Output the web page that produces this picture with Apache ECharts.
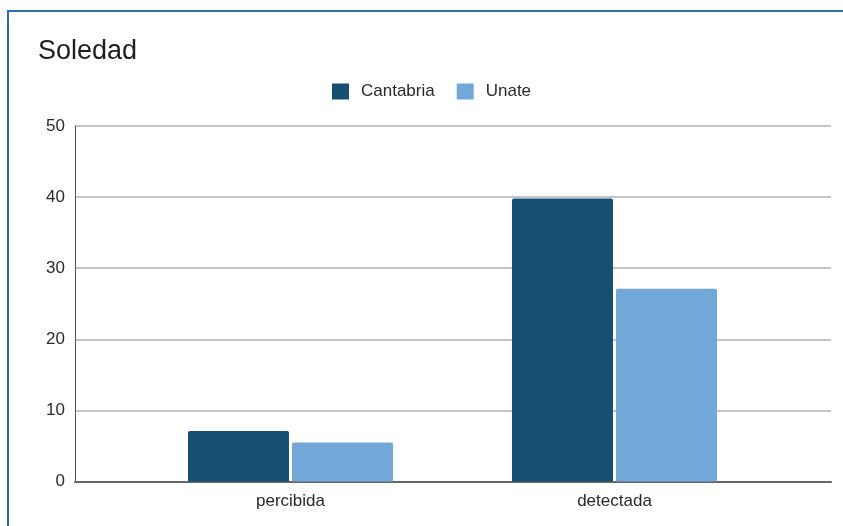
<!DOCTYPE html>
<html>
<head>
<meta charset="utf-8">
<style>
html,body{margin:0;padding:0;background:#fff;overflow:hidden;}
#frame{position:absolute;left:7px;top:10px;width:900px;height:600px;border-left:2px solid #2f6cb3;border-top:2px solid #2f6cb3;pointer-events:none;}
#chart{position:absolute;left:0;top:0;width:843px;height:526px;}
</style>
<script src="https://cdn.jsdelivr.net/npm/echarts@6/dist/echarts.min.js"></script>
</head>
<body>
<div id="chart"></div>
<div id="frame"></div>
<script>
const title = 'Soledad';
const categories = ['percibida', 'detectada'];
const seriesNames = ['Cantabria', 'Unate'];
const cantabria = [7.1, 39.8];
const unate = [5.5, 27.1];
const yTicks = [0, 10, 20, 30, 40, 50];
const colors = ['#155073', '#72a8d8'];

const font = 'Liberation Sans, Arial, sans-serif';
const chart = echarts.init(document.getElementById('chart'));
chart.setOption({
  animation: false,
  textStyle: { fontFamily: font },
  title: {
    text: title, left: 33, top: 33,
    textStyle: { fontSize: 27, fontWeight: 'normal', color: '#1e1e1e', fontFamily: font }
  },
  legend: {
    data: seriesNames, left: 327, top: 78,
    itemWidth: 17, itemHeight: 16, itemGap: 22, icon: 'rect',
    textStyle: { fontSize: 17, color: '#2a2a2a', fontFamily: font, padding: [0, 0, 0, 7] }
  },
  grid: [
    { left: 75, right: 12, top: 126, bottom: 44.5 },
    { left: 128.5, right: 66.5, top: 126, bottom: 44.5 }
  ],
  xAxis: [
    { gridIndex: 0, type: 'category', data: categories,
      axisLine: { show: true, lineStyle: { color: '#666', width: 2 } },
      axisTick: { show: false }, axisLabel: { show: false }, splitLine: { show: false } },
    { gridIndex: 1, type: 'category', data: categories,
      axisLine: { show: false }, axisTick: { show: false },
      axisLabel: { fontSize: 17, color: '#2a2a2a', margin: 11, fontFamily: font } }
  ],
  yAxis: [
    { gridIndex: 0, type: 'value', min: yTicks[0], max: yTicks[yTicks.length - 1], interval: 10,
      axisLine: { show: true, lineStyle: { color: '#555', width: 1 } },
      axisTick: { show: false },
      axisLabel: { fontSize: 17, color: '#2a2a2a', margin: 10, fontFamily: font },
      splitLine: { lineStyle: { color: '#c4c4c4', width: 2 } } },
    { gridIndex: 1, type: 'value', min: yTicks[0], max: yTicks[yTicks.length - 1], interval: 10,
      axisLine: { show: false }, axisTick: { show: false }, axisLabel: { show: false },
      splitLine: { show: false } }
  ],
  series: [
    { name: seriesNames[0], type: 'bar', xAxisIndex: 1, yAxisIndex: 1, data: cantabria,
      barWidth: 101, barGap: '3%',
      itemStyle: { color: colors[0], borderRadius: [2, 2, 0, 0] } },
    { name: seriesNames[1], type: 'bar', xAxisIndex: 1, yAxisIndex: 1, data: unate,
      barWidth: 101, barGap: '3%',
      itemStyle: { color: colors[1], borderRadius: [2, 2, 0, 0] } },
    { type: 'bar', xAxisIndex: 0, yAxisIndex: 0, data: [], silent: true }
  ]
});
</script>
</body>
</html>
